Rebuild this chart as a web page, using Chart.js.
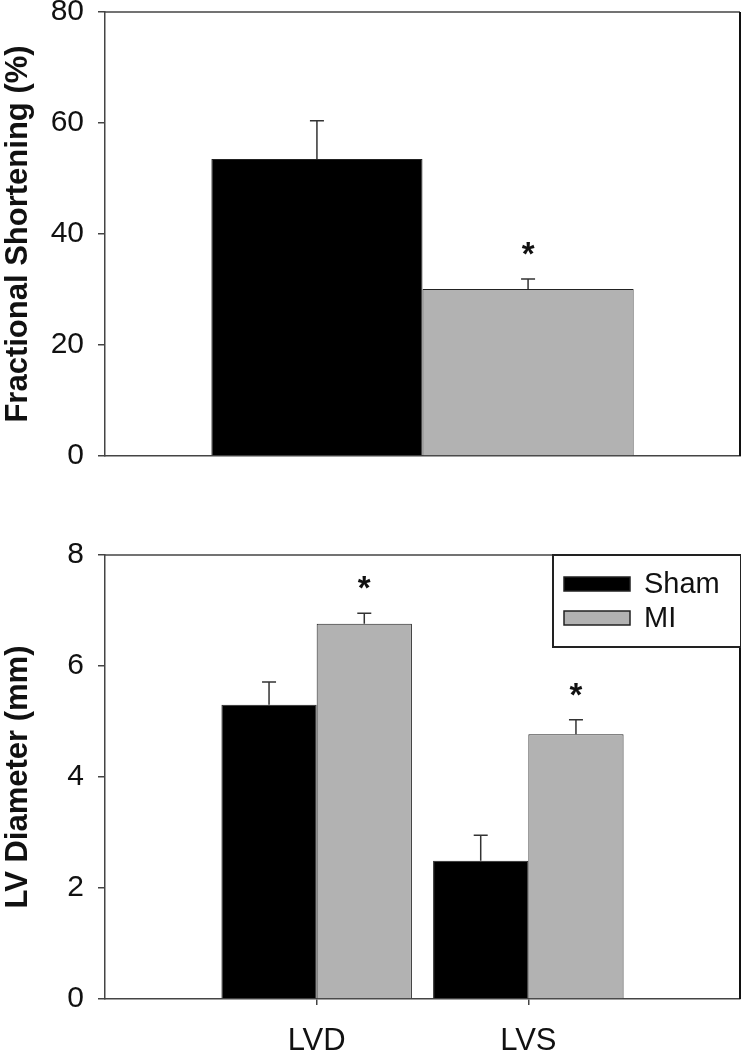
<!DOCTYPE html>
<html>
<head>
<meta charset="utf-8">
<script src="https://cdn.jsdelivr.net/npm/chart.js@4"></script>
<style>
html, body { margin: 0; padding: 0; background: #fff; }
body { width: 741px; height: 1050px; position: relative; overflow: hidden; }
.box { position: absolute; left: 0; width: 741px; }
#topBox { top: 0; height: 470px; }
#botBox { top: 540px; height: 510px; }
</style>
</head>
<body>
<div class="box" id="topBox"><canvas id="fsChart"></canvas></div>
<div class="box" id="botBox"><canvas id="lvChart"></canvas></div>
<script>
// top panel - fractional shortening
const groups = ['Sham', 'MI'];
const fsMeans = [53.5, 30.1];
const fsErrors = [6.9, 1.8];
const fsStars = [false, true];
const fsTicks = [0, 20, 40, 60, 80];

// bottom panel - LV diameter
const lvCategories = ['LVD', 'LVS'];
const shamMeans = [5.30, 2.49];
const shamErrors = [0.41, 0.46];
const miMeans = [6.76, 4.77];
const miErrors = [0.19, 0.26];
const shamStars = [false, false];
const miStars = [true, true];
const lvTicks = [0, 2, 4, 6, 8];

const colors = ['#000000', '#b2b2b2'];
const FONT = '"Liberation Sans", Arial, sans-serif';
const AXIS = '#444';
const INK = '#111';

Chart.defaults.font.family = FONT;
Chart.defaults.color = INK;

const errorBars = {
    id: 'errorBars',
    afterDatasetsDraw(chart) {
        const ctx = chart.ctx, y = chart.scales.y;
        chart.data.datasets.forEach((ds, i) => {
            const meta = chart.getDatasetMeta(i);
            meta.data.forEach((bar, j) => {
                const v = ds.data[j];
                if (v == null) return;
                const top = y.getPixelForValue(v + ds.errors[j]);
                ctx.save();
                ctx.strokeStyle = '#333';
                ctx.lineWidth = 1.5;
                ctx.beginPath();
                ctx.moveTo(bar.x, bar.y);
                ctx.lineTo(bar.x, top);
                ctx.moveTo(bar.x - 7, top);
                ctx.lineTo(bar.x + 7, top);
                ctx.stroke();
                if (ds.stars[j]) {
                    ctx.fillStyle = INK;
                    ctx.font = 'bold 33px ' + FONT;
                    ctx.textAlign = 'center';
                    ctx.textBaseline = 'alphabetic';
                    ctx.fillText('*', bar.x, top - 14);
                }
                ctx.restore();
            });
        });
    }
};

const frame = {
    id: 'frame',
    afterDraw(chart) {
        const {ctx, chartArea: a} = chart;
        ctx.save();
        ctx.strokeStyle = AXIS;
        ctx.lineWidth = 1.5;
        ctx.beginPath();
        ctx.moveTo(a.left, a.top);
        ctx.lineTo(a.right, a.top);
        ctx.stroke();
        ctx.strokeStyle = '#111';
        ctx.lineWidth = 2;
        ctx.beginPath();
        ctx.moveTo(a.right, a.top);
        ctx.lineTo(a.right, a.bottom);
        ctx.stroke();
        ctx.restore();
    }
};

const boxLegend = {
    id: 'boxLegend',
    afterDraw(chart) {
        const {ctx, chartArea: a} = chart;
        const w = 188, h = 92;
        const left = a.right - w + 1, top = a.top;
        ctx.save();
        ctx.fillStyle = '#fff';
        ctx.fillRect(left, top, w, h);
        ctx.strokeStyle = '#222';
        ctx.lineWidth = 2;
        ctx.strokeRect(left, top, w, h);
        chart.data.datasets.forEach((ds, i) => {
            const sy = top + 22 + i * 34;
            ctx.fillStyle = ds.backgroundColor;
            ctx.fillRect(left + 11, sy, 66, 14);
            ctx.strokeStyle = '#222';
            ctx.lineWidth = 1.5;
            ctx.strokeRect(left + 11, sy, 66, 14);
            ctx.fillStyle = INK;
            ctx.font = '29px ' + FONT;
            ctx.textAlign = 'left';
            ctx.textBaseline = 'middle';
            ctx.fillText(ds.label, left + 91, sy + 8);
        });
        ctx.restore();
    }
};

function yAxis(title, ticks, max) {
    return {
        min: 0, max: max,
        afterBuildTicks: s => { s.ticks = ticks.map(v => ({value: v})); },
        afterFit: s => { s.width = 105; s.paddingTop = 0; s.paddingBottom = 0; },
        ticks: { font: {size: 30}, color: INK, padding: 14 },
        grid: { drawOnChartArea: false, tickLength: 7, color: AXIS, lineWidth: 1.5 },
        border: { color: AXIS, width: 1.5 },
        title: { display: true, text: title, font: {size: 31, weight: 'bold'}, color: INK, padding: 0 }
    };
}

const baseOpts = {
    responsive: true, maintainAspectRatio: false, animation: false,
    plugins: { legend: {display: false}, tooltip: {enabled: false} }
};

// top chart
new Chart(document.getElementById('fsChart'), {
    type: 'bar',
    data: {
        labels: [''],
        datasets: groups.map((g, i) => ({
            label: g,
            data: [fsMeans[i]],
            errors: [fsErrors[i]],
            stars: [fsStars[i]],
            backgroundColor: colors[i],
            borderColor: '#222', borderWidth: 1,
            categoryPercentage: 0.665, barPercentage: 1
        }))
    },
    options: {
        ...baseOpts,
        layout: { padding: {top: 12, right: 1, left: 0, bottom: 0} },
        scales: {
            x: {
                afterFit: s => { s.height = 14; s.paddingLeft = 0; s.paddingRight = 0; },
                ticks: {display: false},
                grid: {display: false},
                border: {color: AXIS, width: 1.5}
            },
            y: yAxis('Fractional Shortening (%)', fsTicks, 80)
        }
    },
    plugins: [errorBars, frame]
});

// bottom chart
const pad = arr => [null, ...arr, null];
new Chart(document.getElementById('lvChart'), {
    type: 'bar',
    data: {
        labels: ['', ...lvCategories, ''],
        datasets: [
            { label: groups[0], data: pad(shamMeans), errors: pad(shamErrors), stars: pad(shamStars),
              backgroundColor: colors[0], borderColor: '#222', borderWidth: 1,
              categoryPercentage: 0.9, barPercentage: 1 },
            { label: groups[1], data: pad(miMeans), errors: pad(miErrors), stars: pad(miStars),
              backgroundColor: colors[1], borderColor: '#222', borderWidth: 1,
              categoryPercentage: 0.9, barPercentage: 1 }
        ]
    },
    options: {
        ...baseOpts,
        layout: { padding: {top: 15, right: 1, left: 0, bottom: 0} },
        scales: {
            x: {
                offset: false,
                afterFit: s => { s.height = 51; s.paddingLeft = 0; s.paddingRight = 0; },
                ticks: { font: {size: 31}, color: INK, padding: 18, autoSkip: false, maxRotation: 0 },
                grid: {
                    offset: false, drawOnChartArea: false, tickLength: 6, lineWidth: 1.5,
                    color: c => (c.index === 0 || c.index === lvCategories.length + 1) ? 'rgba(0,0,0,0)' : AXIS
                },
                border: {color: AXIS, width: 1.5}
            },
            y: yAxis('LV Diameter (mm)', lvTicks, 8)
        }
    },
    plugins: [errorBars, frame, boxLegend]
});
</script>
</body>
</html>
